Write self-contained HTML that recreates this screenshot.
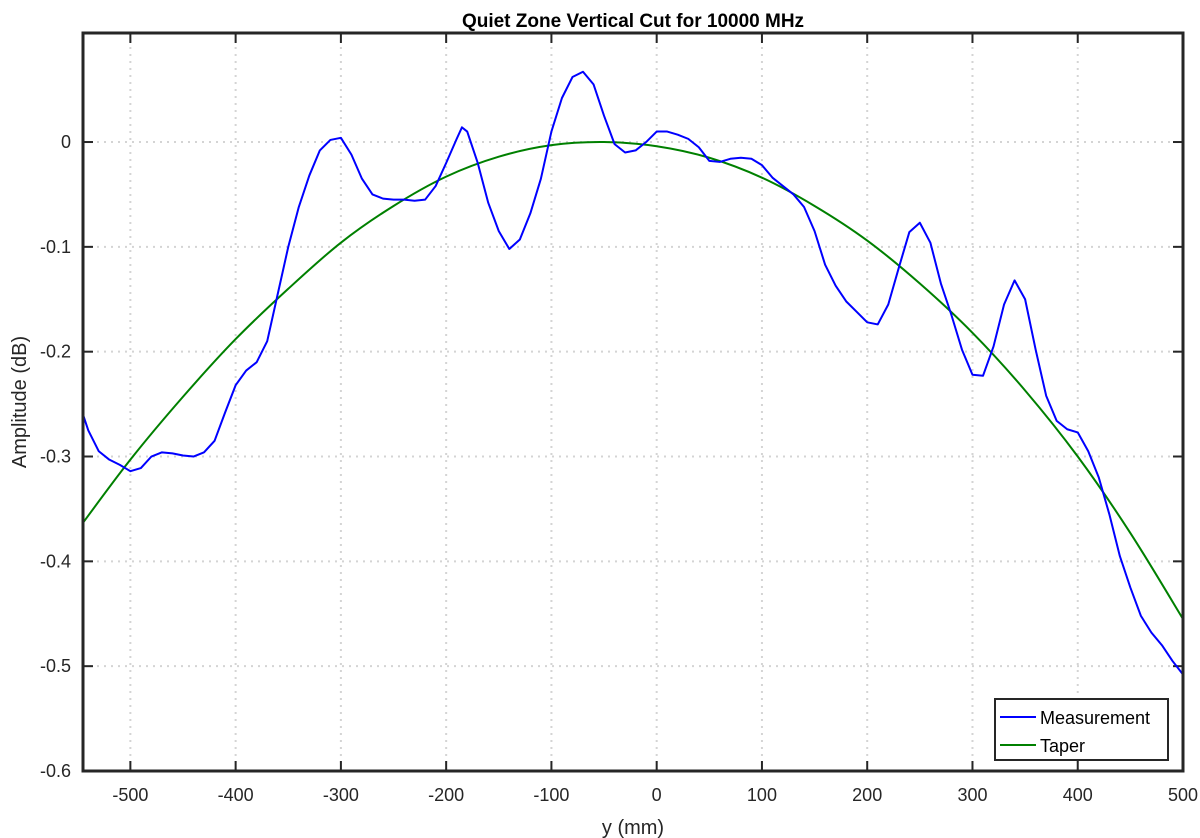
<!DOCTYPE html>
<html><head><meta charset="utf-8"><style>
body{margin:0;background:#fff;}
svg{display:block;font-family:"Liberation Sans",Arial,sans-serif;}
</style></head><body>
<svg id="chart" width="1200" height="838" viewBox="0 0 1200 838" xmlns="http://www.w3.org/2000/svg">
<defs><clipPath id="plotclip"><rect x="83" y="33" width="1100" height="738"/></clipPath></defs>
<rect width="1200" height="838" fill="#fff"/>
<text x="633" y="27" text-anchor="middle" font-size="19" font-weight="bold" fill="#000">Quiet Zone Vertical Cut for 10000 MHz</text>
<g id="grid"></g>
<g id="ticks"></g>
<g id="series" clip-path="url(#plotclip)"></g>
<rect x="83" y="33" width="1100" height="738" fill="none" stroke="#262626" stroke-width="3"/>
<text x="633" y="834" text-anchor="middle" font-size="20" fill="#262626">y (mm)</text>
<text transform="translate(26,402) rotate(-90)" text-anchor="middle" font-size="20" fill="#262626">Amplitude (dB)</text>
<g>
<rect x="995" y="699" width="173" height="61" fill="#fff" stroke="#262626" stroke-width="2"/>
<line x1="1000" y1="717" x2="1036" y2="717" stroke="#0000ff" stroke-width="2"/>
<text x="1040" y="724" font-size="18" fill="#000">Measurement</text>
<line x1="1000" y1="745" x2="1036" y2="745" stroke="#008000" stroke-width="2"/>
<text x="1040" y="752" font-size="18" fill="#000">Taper</text>
</g>
</svg>
<script>
const xTicks=[-500,-400,-300,-200,-100,0,100,200,300,400,500];
const yTicks=[0,-0.1,-0.2,-0.3,-0.4,-0.5,-0.6];
const measX=[-550,-540,-530,-520,-510,-500,-490,-480,-470,-460,-450,-440,-430,-420,-410,-400,-390,-380,-370,-360,-350,-340,-330,-320,-310,-300,-290,-280,-270,-260,-250,-240,-230,-220,-210,-200,-190,-185,-180,-170,-160,-150,-140,-130,-120,-110,-100,-90,-80,-70,-60,-50,-40,-30,-20,-10,0,10,20,30,40,50,60,70,80,90,100,110,120,130,140,150,160,170,180,190,200,210,220,230,240,250,260,270,280,290,300,310,320,330,340,350,360,370,380,390,400,410,420,430,440,450,460,470,480,490,500];
const measY=[-0.245,-0.275,-0.295,-0.303,-0.308,-0.314,-0.311,-0.300,-0.296,-0.297,-0.299,-0.300,-0.296,-0.285,-0.258,-0.232,-0.218,-0.210,-0.190,-0.145,-0.100,-0.062,-0.032,-0.008,0.002,0.004,-0.012,-0.035,-0.050,-0.054,-0.055,-0.055,-0.056,-0.055,-0.042,-0.020,0.003,0.014,0.010,-0.020,-0.058,-0.085,-0.102,-0.093,-0.068,-0.035,0.010,0.042,0.062,0.067,0.055,0.025,-0.002,-0.010,-0.008,0.000,0.010,0.010,0.007,0.003,-0.005,-0.018,-0.019,-0.016,-0.015,-0.016,-0.022,-0.034,-0.042,-0.050,-0.062,-0.085,-0.117,-0.137,-0.152,-0.162,-0.172,-0.174,-0.155,-0.120,-0.086,-0.077,-0.096,-0.135,-0.165,-0.198,-0.222,-0.223,-0.195,-0.155,-0.132,-0.150,-0.198,-0.242,-0.266,-0.274,-0.277,-0.295,-0.320,-0.355,-0.395,-0.425,-0.452,-0.468,-0.480,-0.495,-0.508];
const taperX=[-550,-500,-450,-400,-350,-300,-250,-200,-150,-100,-50,0,50,100,150,200,250,300,350,400,450,500];
const taperY=[-0.370,-0.303,-0.243,-0.188,-0.140,-0.096,-0.061,-0.033,-0.014,-0.003,0,-0.004,-0.015,-0.034,-0.061,-0.094,-0.135,-0.182,-0.237,-0.300,-0.373,-0.455];
const L=83,R=1183,T=33,B=771,xMin=-545,xMax=500,yMin=-0.6,yMax=0.104;
const sx=v=>L+(v-xMin)/(xMax-xMin)*(R-L);
const sy=v=>B-(v-yMin)/(yMax-yMin)*(B-T);
const NS='http://www.w3.org/2000/svg';
function mk(tag,attrs,parent){const e=document.createElementNS(NS,tag);for(const k in attrs)e.setAttribute(k,attrs[k]);parent.appendChild(e);return e;}
const grid=document.getElementById('grid'),ticks=document.getElementById('ticks'),series=document.getElementById('series');
xTicks.forEach(t=>{const x=sx(t);
 const g=mk('line',{x1:x,x2:x,y1:T,y2:B,stroke:'#d4d4d4','stroke-width':2,'stroke-dasharray':'2 5'},grid);
 
 
 mk('line',{x1:x,x2:x,y1:B,y2:B-10,stroke:'#262626','stroke-width':2},ticks);
 mk('line',{x1:x,x2:x,y1:T,y2:T+10,stroke:'#262626','stroke-width':2},ticks);
 const tx=mk('text',{x:x,y:B+30,'text-anchor':'middle','font-size':18,fill:'#262626'},ticks);
 tx.textContent=String(t);
 
 
});
yTicks.forEach(t=>{const y=sy(t);
 const g=mk('line',{x1:L,x2:R,y1:y,y2:y,stroke:'#d4d4d4','stroke-width':2,'stroke-dasharray':'2 5'},grid);
 
 
 mk('line',{x1:L,x2:L+10,y1:y,y2:y,stroke:'#262626','stroke-width':2},ticks);
 mk('line',{x1:R,x2:R-10,y1:y,y2:y,stroke:'#262626','stroke-width':2},ticks);
 const tx=mk('text',{x:L-12,y:y+6,'text-anchor':'end','font-size':18,fill:'#262626'},ticks);
 tx.textContent=t===0?'0':String(t);
 
 
});
function smooth(xs,ys){let d='M'+sx(xs[0])+','+sy(ys[0]);
 for(let i=0;i<xs.length-1;i++){const p0=i?i-1:i,p3=i+2<xs.length?i+2:i+1;
  const x0=sx(xs[p0]),y0=sy(ys[p0]),x1=sx(xs[i]),y1=sy(ys[i]),x2=sx(xs[i+1]),y2=sy(ys[i+1]),x3=sx(xs[p3]),y3=sy(ys[p3]);
  d+=' C'+(x1+(x2-x0)/6)+','+(y1+(y2-y0)/6)+' '+(x2-(x3-x1)/6)+','+(y2-(y3-y1)/6)+' '+x2+','+y2;}
 return d;}
const tp=mk('path',{d:smooth(taperX,taperY),fill:'none',stroke:'#008000','stroke-width':2},series);


const mp=mk('polyline',{points:measX.map((x,i)=>sx(x)+','+sy(measY[i])).join(' '),fill:'none',stroke:'#0000ff','stroke-width':2,'stroke-linejoin':'round'},series);


</script>
</body></html>
